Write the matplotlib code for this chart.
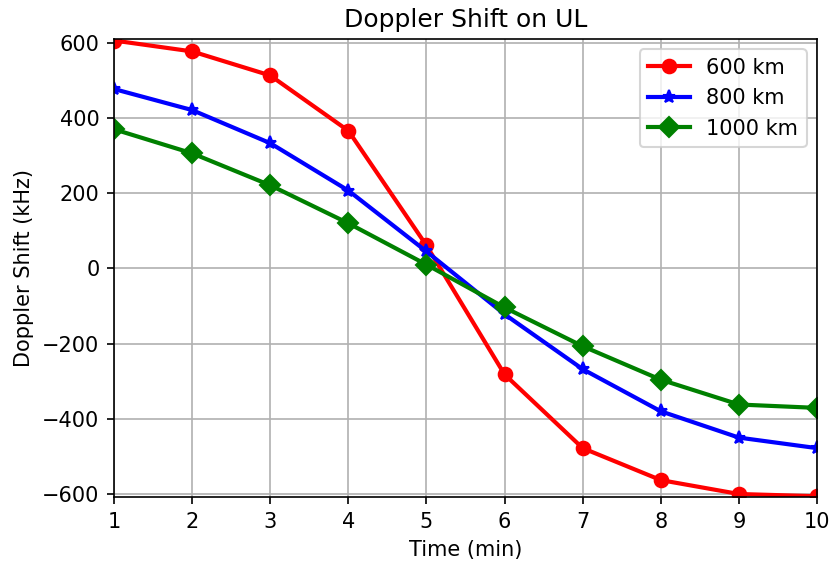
import numpy as np
import matplotlib.pyplot as plt

# Dados
time_min = [1, 2, 3, 4, 5, 6, 7, 8, 9, 10]
shift_600 = [606, 577, 513, 366, 61, -282, -478, -563, -600, -606]
shift_800 = [477, 421, 333, 207, 45, -122, -268, -380, -450, -478]
shift_1000 = [370, 306, 221, 120, 10, -104, -207, -296, -362, -371]

fig = plt.figure(figsize=(833 / 150, 563 / 150), dpi=150)
ax = fig.add_axes([0.1369, 0.1172, 0.8439, 0.8135])

ax.plot(time_min, shift_600, "r-o", lw=2, ms=6.5, label="600 km")
ax.plot(time_min, shift_800, "b-*", lw=2, ms=6.5, label="800 km")
ax.plot(time_min, shift_1000, "g-D", lw=2, ms=6.5, label="1000 km")

ax.set_xlim(1, 10)
ax.set_ylim(-608, 610)
ax.set_xticks(time_min)
ax.set_yticks(np.arange(-600, 601, 200))
ax.set_xlabel("Time (min)")
ax.set_ylabel("Doppler Shift (kHz)")
ax.set_title("Doppler Shift on UL", fontsize=12)
ax.grid(True)
ax.legend(loc="upper right")

fig.savefig("out.png", dpi=150)
